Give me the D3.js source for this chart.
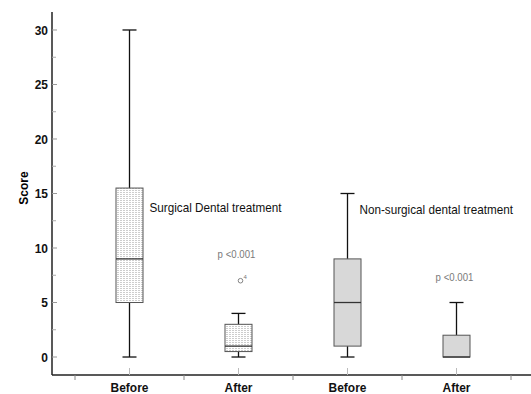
<!DOCTYPE html>
<html>
<head>
<meta charset="utf-8">
<script src="https://cdn.jsdelivr.net/npm/d3@7"></script>
<style>
  body { margin: 0; background: #fff; }
  svg { display: block; }
</style>
</head>
<body>
<svg id="chart" width="531" height="394"></svg>
<script>
// group labels along the x axis
const categories = ["Before", "After", "Before", "After"];
// box plot statistics per group
const lowWhisker = [0, 0, 0, 0];
const q1 = [5, 0.5, 1, 0];
const median = [9, 1, 5, 0];
const q3 = [15.5, 3, 9, 2];
const highWhisker = [30, 4, 15, 5];
// outliers: group index, value, case label
const outlierGroup = [1];
const outlierValue = [7];
const outlierLabel = ["4"];
// y ticks
const majorTicks = [0, 5, 10, 15, 20, 25, 30];
const minorTicks = [2.5, 7.5, 12.5, 17.5, 22.5, 27.5];
// annotations (group they sit next to, score level)
const treatmentNames = ["Surgical Dental treatment", "Non-surgical dental treatment"];
const treatmentGroup = [0, 2];
const treatmentLevel = [13.75, 13.5];
const pText = ["p <0.001", "p <0.001"];
const pGroup = [1, 3];
const pLevel = [9.4, 7.3];

const svg = d3.select("#chart");
const sans = "'Liberation Sans', Arial, sans-serif";

const x = d3.scaleBand().domain(d3.range(categories.length)).range([75, 511]).padding(0);
const y = d3.scaleLinear().domain([-1.65, 31.65]).range([375, 12]);
const cx = i => x(i) + x.bandwidth() / 2;
const boxW = 27;

// dotted fills
const defs = svg.append("defs");
const pA = defs.append("pattern").attr("id", "dotsA")
    .attr("patternUnits", "userSpaceOnUse").attr("width", 3).attr("height", 2);
pA.append("rect").attr("width", 3).attr("height", 2).attr("fill", "#fff");
pA.append("rect").attr("width", 1).attr("height", 1).attr("fill", "#9a9a9a");
const pB = defs.append("pattern").attr("id", "dotsB")
    .attr("patternUnits", "userSpaceOnUse").attr("width", 2).attr("height", 2);
pB.append("rect").attr("width", 2).attr("height", 2).attr("fill", "#f8f8f8");
pB.append("rect").attr("width", 1).attr("height", 1).attr("fill", "#b8b8b8");
pB.append("rect").attr("x", 1).attr("y", 1).attr("width", 1).attr("height", 1).attr("fill", "#b8b8b8");

// y axis
const yAxis = svg.append("g").attr("transform", "translate(52,0)");
yAxis.append("line").attr("x1", 0).attr("x2", 0).attr("y1", 12).attr("y2", 375)
    .attr("stroke", "#222").attr("stroke-width", 1.5);
yAxis.selectAll(".maj").data(majorTicks).join("line")
    .attr("x1", 0).attr("x2", 5).attr("y1", d => y(d)).attr("y2", d => y(d))
    .attr("stroke", "#999");
yAxis.selectAll(".min").data(minorTicks).join("line")
    .attr("x1", 0).attr("x2", 4).attr("y1", d => y(d)).attr("y2", d => y(d))
    .attr("stroke", "#aaa");
yAxis.selectAll("text").data(majorTicks).join("text")
    .attr("transform", d => `translate(-4,${y(d)}) scale(0.92,1)`)
    .attr("dy", "0.36em")
    .attr("text-anchor", "end")
    .style("font-family", sans).style("font-weight", "bold").style("font-size", "13px")
    .attr("fill", "#111")
    .text(d => d);

svg.append("text")
    .attr("transform", "translate(28,188) rotate(-90)")
    .attr("text-anchor", "middle")
    .style("font-family", sans).style("font-weight", "bold").style("font-size", "12px")
    .text("Score");

// x axis
const xAxis = svg.append("g");
xAxis.append("line").attr("x1", 52).attr("x2", 531).attr("y1", 375).attr("y2", 375)
    .attr("stroke", "#222").attr("stroke-width", 1.5);
const bounds = d3.range(categories.length + 1).map(i => x.range()[0] + i * x.bandwidth());
xAxis.selectAll(".bnd").data(bounds).join("line")
    .attr("x1", d => d).attr("x2", d => d).attr("y1", 375).attr("y2", 380)
    .attr("stroke", "#888");
xAxis.selectAll(".ctr").data(categories).join("line")
    .attr("x1", (d, i) => cx(i)).attr("x2", (d, i) => cx(i))
    .attr("y1", 368).attr("y2", 375)
    .attr("stroke", "#bbb");
xAxis.selectAll("text").data(categories).join("text")
    .attr("transform", (d, i) => `translate(${cx(i)},392) scale(0.92,1)`)
    .attr("text-anchor", "middle")
    .style("font-family", sans).style("font-weight", "bold").style("font-size", "13px")
    .attr("fill", "#111")
    .text(d => d);

// boxes
const groups = svg.selectAll(".box").data(categories).join("g")
    .attr("transform", (d, i) => `translate(${cx(i)},0)`);

groups.each(function (d, i) {
    const g = d3.select(this);
    if (highWhisker[i] > q3[i]) {
        g.append("line").attr("x1", 0).attr("x2", 0).attr("y1", y(highWhisker[i])).attr("y2", y(q3[i]))
            .attr("stroke", "#111").attr("stroke-width", 1.3);
        g.append("line").attr("x1", -7).attr("x2", 7).attr("y1", y(highWhisker[i])).attr("y2", y(highWhisker[i]))
            .attr("stroke", "#111").attr("stroke-width", 1.3);
    }
    if (lowWhisker[i] < q1[i]) {
        g.append("line").attr("x1", 0).attr("x2", 0).attr("y1", y(q1[i])).attr("y2", y(lowWhisker[i]))
            .attr("stroke", "#111").attr("stroke-width", 1.3);
        g.append("line").attr("x1", -7).attr("x2", 7).attr("y1", y(lowWhisker[i])).attr("y2", y(lowWhisker[i]))
            .attr("stroke", "#111").attr("stroke-width", 1.3);
    }
    g.append("rect")
        .attr("x", -boxW / 2).attr("width", boxW)
        .attr("y", y(q3[i])).attr("height", y(q1[i]) - y(q3[i]))
        .attr("fill", i < 2 ? "url(#dotsA)" : "url(#dotsB)")
        .attr("stroke", "#555").attr("stroke-width", 1);
    g.append("line").attr("x1", -boxW / 2).attr("x2", boxW / 2)
        .attr("y1", y(median[i])).attr("y2", y(median[i]))
        .attr("stroke", "#333").attr("stroke-width", 1.3);
});

// outliers
outlierGroup.forEach((gi, k) => {
    const px = cx(gi) + 2;
    svg.append("circle").attr("cx", px).attr("cy", y(outlierValue[k])).attr("r", 2.3)
        .attr("fill", "none").attr("stroke", "#777").attr("stroke-width", 0.9);
    svg.append("text").attr("x", px + 3).attr("y", y(outlierValue[k]) - 2)
        .style("font-family", sans).style("font-size", "6px").attr("fill", "#777")
        .text(outlierLabel[k]);
});

// annotations
const treatmentShift = [20, 12];
treatmentNames.forEach((t, k) => {
    svg.append("text")
        .attr("transform", `translate(${cx(treatmentGroup[k]) + treatmentShift[k]},${y(treatmentLevel[k])}) scale(0.9,1)`)
        .attr("dy", "0.35em")
        .style("font-family", sans).style("font-size", "13px").attr("fill", "#111")
        .text(t);
});
pText.forEach((t, k) => {
    svg.append("text")
        .attr("transform", `translate(${cx(pGroup[k]) - 2},${y(pLevel[k])}) scale(0.92,1)`)
        .attr("dy", "0.35em")
        .attr("text-anchor", "middle")
        .style("font-family", sans).style("font-size", "10.5px").attr("fill", "#7a7a7a")
        .text(t);
});
</script>
</body>
</html>
